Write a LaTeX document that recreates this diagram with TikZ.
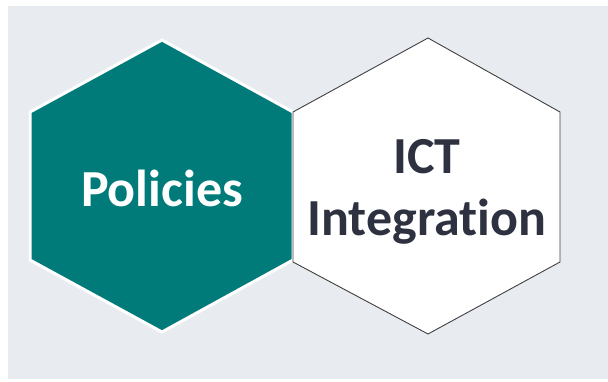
\documentclass[tikz,border=0pt]{standalone}
\usepackage{fontspec}
\setmainfont[Ligatures=NoCommon]{Carlito}

\definecolor{tealfill}{RGB}{0,123,122}
\definecolor{panel}{RGB}{232,235,240}
\definecolor{inkdark}{RGB}{46,49,64}

\begin{document}
\begin{tikzpicture}[x=1pt,y=-1pt,
        hexlabel/.style={font=\bfseries\fontsize{52}{62}\selectfont,align=center}]
    \useasboundingbox (0,0) rectangle (608,381);
    \fill[panel] (8,6) rectangle (608,379);
    % the two hexagons, sharing one side
    \draw[white,line width=3pt,fill=tealfill] (162,40) -- (293,112) -- (293,260) -- (162,332) -- (30,260) -- (30,112) -- cycle;
    \draw[black!75,line width=0.9pt,fill=white] (428,38) -- (560,112) -- (560,262) -- (428,334) -- (293,262) -- (293,112) -- cycle;
    \node[hexlabel,text=white] (policies) at (162,188) {Policies};
    \node[hexlabel,text=inkdark] (ict) at (427,192) {ICT\\Integration};
\end{tikzpicture}
\end{document}
